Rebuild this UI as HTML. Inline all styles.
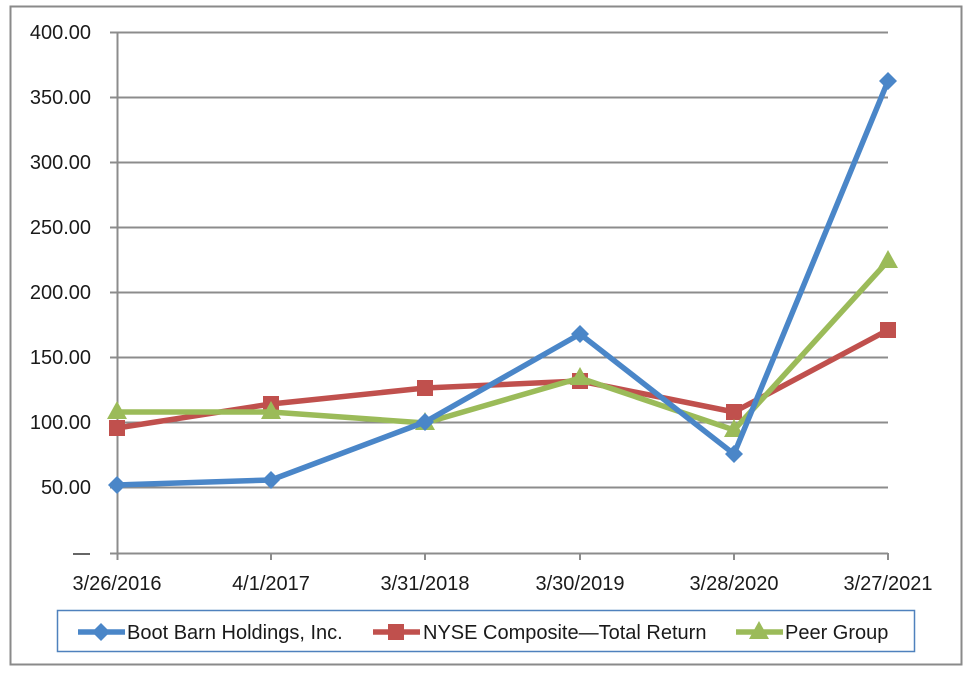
<!DOCTYPE html>
<html><head><meta charset="utf-8"><style>
html,body{margin:0;padding:0;background:#fff;}
svg{display:block;}
text{font-family:"Liberation Sans",sans-serif;fill:#1a1a1a;}
</style></head><body>
<svg width="972" height="677" viewBox="0 0 972 677" xmlns="http://www.w3.org/2000/svg">
<rect x="0" y="0" width="972" height="677" fill="#fff"/>
<rect x="10.5" y="6.5" width="951" height="658" fill="none" stroke="#8a8a8a" stroke-width="2"/>
<g stroke="#8c8c8c" stroke-width="2">
<line x1="110" y1="32.5" x2="888" y2="32.5"/>
<line x1="110" y1="97.5" x2="888" y2="97.5"/>
<line x1="110" y1="162.5" x2="888" y2="162.5"/>
<line x1="110" y1="227.5" x2="888" y2="227.5"/>
<line x1="110" y1="292.5" x2="888" y2="292.5"/>
<line x1="110" y1="357.5" x2="888" y2="357.5"/>
<line x1="110" y1="422.5" x2="888" y2="422.5"/>
<line x1="110" y1="487.5" x2="888" y2="487.5"/>
<line x1="110" y1="553.5" x2="888" y2="553.5"/>
<line x1="117.5" y1="32" x2="117.5" y2="560"/>
<line x1="271" y1="553" x2="271" y2="560"/>
<line x1="425" y1="553" x2="425" y2="560"/>
<line x1="580" y1="553" x2="580" y2="560"/>
<line x1="734" y1="553" x2="734" y2="560"/>
<line x1="888" y1="553" x2="888" y2="560"/>
</g>
<g font-size="20" text-anchor="end">
<text x="91" y="39">400.00</text>
<text x="91" y="104">350.00</text>
<text x="91" y="169">300.00</text>
<text x="91" y="234">250.00</text>
<text x="91" y="299">200.00</text>
<text x="91" y="364">150.00</text>
<text x="91" y="429">100.00</text>
<text x="91" y="494">50.00</text>
</g>
<line x1="73" y1="554" x2="90" y2="554" stroke="#333" stroke-width="1.5"/>
<g font-size="20" text-anchor="middle">
<text x="117" y="590">3/26/2016</text>
<text x="271" y="590">4/1/2017</text>
<text x="425" y="590">3/31/2018</text>
<text x="580" y="590">3/30/2019</text>
<text x="734" y="590">3/28/2020</text>
<text x="888" y="590">3/27/2021</text>
</g>
<polyline fill="none" stroke="#C0504D" stroke-width="5.5" stroke-linejoin="round" points="117,428 271,404 425,388 580,381 734,412 888,330"/>
<g fill="#C0504D">
<rect x="109" y="420" width="16" height="16"/>
<rect x="263" y="396" width="16" height="16"/>
<rect x="417" y="380" width="16" height="16"/>
<rect x="572" y="373" width="16" height="16"/>
<rect x="726" y="404" width="16" height="16"/>
<rect x="880" y="322" width="16" height="16"/>
</g>
<polyline fill="none" stroke="#9BBB59" stroke-width="5.5" stroke-linejoin="round" points="117,412 271,412 425,423 580,378 734,430 888,261"/>
<g fill="#9BBB59">
<polygon points="117,401 127,419 107,419"/>
<polygon points="271,401 281,419 261,419"/>
<polygon points="425,412 435,430 415,430"/>
<polygon points="580,367 590,385 570,385"/>
<polygon points="734,419 744,437 724,437"/>
<polygon points="888,250 898,268 878,268"/>
</g>
<polyline fill="none" stroke="#4A86C8" stroke-width="5.5" stroke-linejoin="round" points="117,485 271,480 425,422 580,334 734,454 888,81"/>
<g fill="#4A86C8">
<polygon points="117,476 126,485 117,494 108,485"/>
<polygon points="271,471 280,480 271,489 262,480"/>
<polygon points="425,413 434,422 425,431 416,422"/>
<polygon points="580,325 589,334 580,343 571,334"/>
<polygon points="734,445 743,454 734,463 725,454"/>
<polygon points="888,72 897,81 888,90 879,81"/>
</g>
<rect x="57.5" y="610.5" width="857" height="41" fill="#fff" stroke="#4F81BD" stroke-width="1.5"/>
<line x1="78" y1="632" x2="125" y2="632" stroke="#4A86C8" stroke-width="5.5"/>
<polygon points="101,623 110,632 101,641 92,632" fill="#4A86C8"/>
<text x="127" y="639" font-size="20">Boot Barn Holdings, Inc.</text>
<line x1="373" y1="632" x2="420" y2="632" stroke="#C0504D" stroke-width="5.5"/>
<rect x="388" y="624" width="16" height="16" fill="#C0504D"/>
<text x="423" y="639" font-size="20">NYSE Composite—Total Return</text>
<line x1="736" y1="632" x2="783" y2="632" stroke="#9BBB59" stroke-width="5.5"/>
<polygon points="759,621 769,639 749,639" fill="#9BBB59"/>
<text x="785" y="639" font-size="20">Peer Group</text>
</svg>
</body></html>
